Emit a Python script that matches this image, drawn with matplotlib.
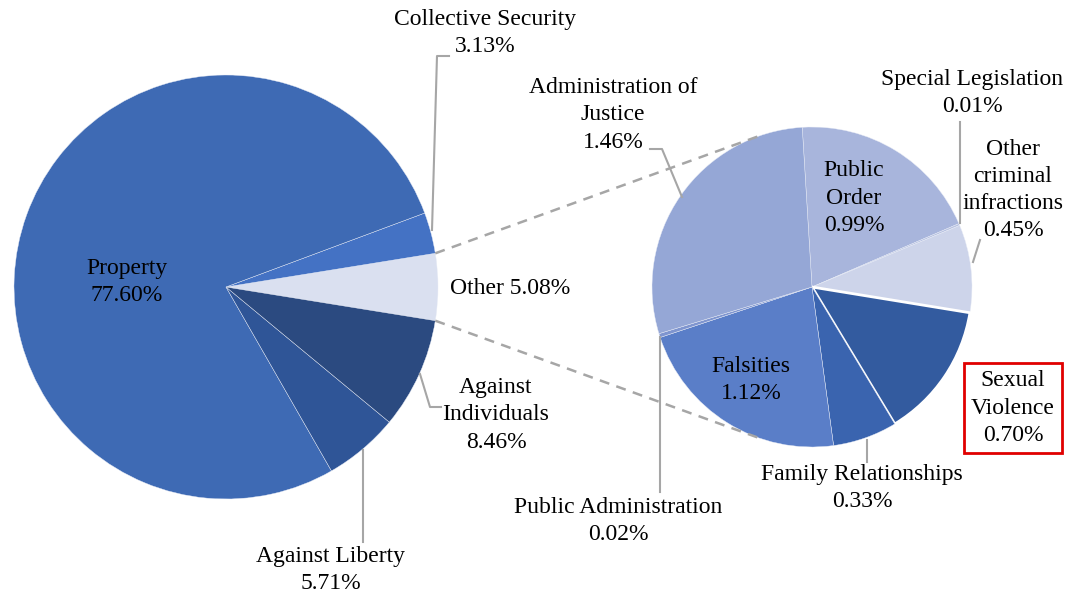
import numpy as np
import matplotlib.pyplot as plt

plt.rcParams['font.family'] = ['Liberation Serif', 'DejaVu Serif']

W, H = 1072, 593

# crime groups (left pie), counterclockwise starting with "Other"
main_labels = ['Other', 'Collective Security', 'Property', 'Against Liberty', 'Against Individuals']
main_values = [5.08, 3.13, 77.60, 5.71, 8.46]
main_colors = ['#DAE0F0', '#4472C4', '#3E6AB4', '#2F5597', '#2B4A80']

# breakdown of "Other" (right pie), clockwise from the top
sub_labels = ['Public Order', 'Special Legislation', 'Other criminal infractions',
              'Sexual Violence', 'Family Relationships', 'Falsities',
              'Public Administration', 'Administration of Justice']
sub_values = [0.99, 0.01, 0.45, 0.70, 0.33, 1.12, 0.02, 1.46]
sub_colors = ['#A8B5DC', '#B9C3E2', '#CDD4EA', '#335B9F', '#3A64AF', '#5A7EC8',
              '#7F95CF', '#95A7D6']


def px(x, y):
    # pixel position measured from the top-left corner -> data coords
    return x, H - y


fig = plt.figure(figsize=(W / 100, H / 100), dpi=100)
ax = fig.add_axes([0, 0, 1, 1])
ax.set_xlim(0, W)
ax.set_ylim(0, H)
ax.set_aspect('equal')
ax.axis('off')

c1, r1 = px(226, 287), 212
c2, r2 = px(812, 287), 160

start1 = -main_values[0] / sum(main_values) * 360 / 2
w1, _ = ax.pie(main_values, colors=main_colors, startangle=start1, center=c1, radius=r1,
               wedgeprops=dict(edgecolor='#E8ECF6', linewidth=0.3))

explode = [0.03 if l == 'Sexual Violence' else 0 for l in sub_labels]
w2, _ = ax.pie(sub_values, colors=sub_colors, startangle=93.5, counterclock=False,
               center=c2, radius=r2, explode=explode,
               wedgeprops=dict(edgecolor='#E8ECF6', linewidth=0.3))
w2[sub_labels.index('Sexual Violence')].set(edgecolor='white', linewidth=2)
ax.set_xlim(0, W)
ax.set_ylim(0, H)

# dashed lines from the "Other" slice to the breakdown pie
other = w1[0]
for a1, a2 in [(other.theta2, 110), (other.theta1, -110)]:
    p1 = (c1[0] + r1 * np.cos(np.radians(a1)), c1[1] + r1 * np.sin(np.radians(a1)))
    p2 = (c2[0] + r2 * np.cos(np.radians(a2)), c2[1] + r2 * np.sin(np.radians(a2)))
    ax.plot([p1[0], p2[0]], [p1[1], p2[1]], color='#A6A6A6', lw=1.8,
            dashes=(4, 3), zorder=3)

# leader lines (pixel points)
leaders = [
    [(432, 230), (437, 56), (449, 56)],
    [(420, 374), (430, 407), (441, 407)],
    [(363, 450), (363, 542)],
    [(682, 197), (662, 149), (650, 149)],
    [(660, 337), (660, 492)],
    [(867, 440), (867, 462)],
    [(960, 223), (960, 122)],
    [(973, 262), (980, 240)],
]
for pts in leaders:
    xs, ys = zip(*[px(*p) for p in pts])
    ax.plot(xs, ys, color='#A6A6A6', lw=1.5, zorder=3)

fs = 17
ls = 1.38
main_text = {
    'Property': ('Property\n{:.2f}%', 127, 282),
    'Collective Security': ('Collective Security\n{:.2f}%', 485, 33),
    'Other': ('Other {:.2f}%', 510, 288),
    'Against Individuals': ('Against\nIndividuals\n{:.2f}%', 496, 415),
    'Against Liberty': ('Against Liberty\n{:.2f}%', 331, 570),
}
for lab, val in zip(main_labels, main_values):
    t, x, y = main_text[lab]
    ax.text(*px(x, y), t.format(val), ha='center', va='center', fontsize=fs,
            linespacing=ls, zorder=4)

sub_text = {
    'Administration of Justice': ('Administration of\nJustice\n{:.2f}%', 613, 115),
    'Public Order': ('Public\nOrder\n{:.2f}%', 854, 198),
    'Special Legislation': ('Special Legislation\n{:.2f}%', 972, 93),
    'Other criminal infractions': ('Other\ncriminal\ninfractions\n{:.2f}%', 1013, 190),
    'Sexual Violence': ('Sexual\nViolence\n{:.2f}%', 1013, 408),
    'Family Relationships': ('Family Relationships\n{:.2f}%', 862, 488),
    'Falsities': ('Falsities\n{:.2f}%', 751, 380),
    'Public Administration': ('Public Administration\n{:.2f}%', 618, 521),
}
for lab, val in zip(sub_labels, sub_values):
    t, x, y = sub_text[lab]
    box = None
    if lab == 'Sexual Violence':
        box = dict(boxstyle='square,pad=0.3', facecolor='white', edgecolor='#E00000', lw=2)
    ax.text(*px(x, y), t.format(val), ha='center', va='center', fontsize=fs,
            linespacing=ls, bbox=box, zorder=4)

fig.savefig('out.png', dpi=100)
